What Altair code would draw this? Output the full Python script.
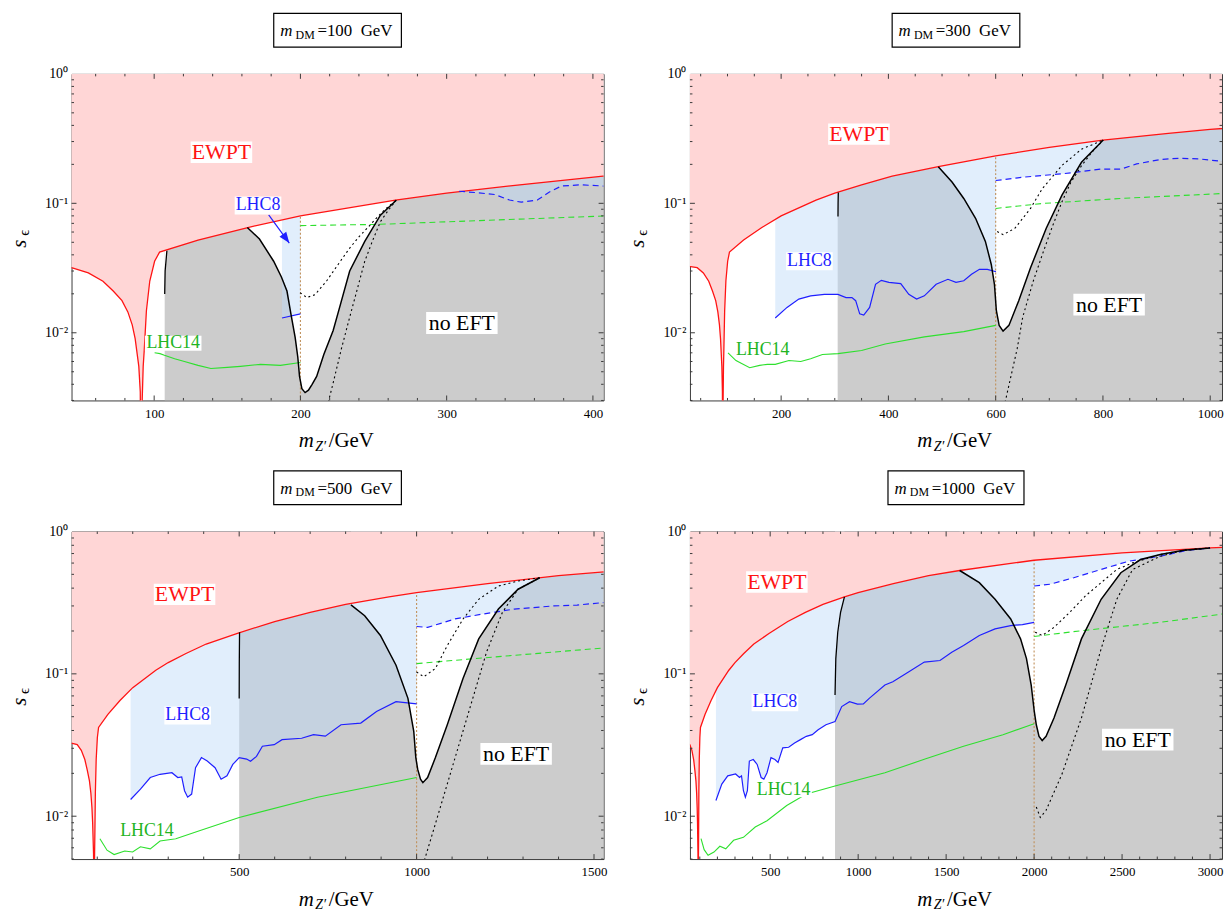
import altair as alt
import pandas as pd

FONT = "Liberation Serif"
PINK = "#ffd6d6"
GRAY = "#cccccc"
BLUEFILL = "#bcd9f8"
RED = "#ff1414"
BLUE = "#1f1fff"
GREEN = "#2ee02e"
GREEN_TXT = "#22b422"
BROWN = "#c0905a"
FRAME = "#3a3a3a"

# ---------------- EWPT bound (same in every panel) ----------------
ewpt = [(27, 0.0326), (43.5, 0.0318), (55, 0.029), (65, 0.025), (72, 0.021), (78, 0.0177),
        (82, 0.0145), (85, 0.0115), (87, 0.009), (89.5, 0.0055), (90.5, 0.0035), (91.19, 0.0004),
        (91.6, 0.0025), (92.5, 0.0055), (93.2, 0.0073), (94.7, 0.0148), (97, 0.0251), (100.3, 0.0357),
        (103.7, 0.042), (130, 0.052), (164, 0.065), (200, 0.080), (265, 0.106), (300, 0.120),
        (350, 0.139), (407, 0.162), (493, 0.192), (600, 0.233), (700, 0.270), (800, 0.308),
        (922, 0.347), (1000, 0.372), (1200, 0.430), (1400, 0.490), (1577, 0.532), (2000, 0.628),
        (2500, 0.707), (3000, 0.766), (3070, 0.774)]

# ---------------- panel 1 : m_DM = 100 GeV ----------------
p1_v = [(163.7, 0.065), (172, 0.053), (181.7, 0.0357), (187, 0.027), (190.8, 0.021), (193.5, 0.014),
        (196.4, 0.0092), (198.2, 0.0065), (199.4, 0.0046), (201, 0.0037), (203.2, 0.00345),
        (205.5, 0.0036), (208, 0.0040), (211.1, 0.0046), (216, 0.0068), (222.4, 0.0104), (227, 0.016),
        (233.7, 0.030), (244, 0.0508), (254.7, 0.081), (265.5, 0.1057)]
p1_edge = [(107.2, 0.0199), (107.5, 0.030), (108.7, 0.043)]
p1_dot_a = [(199.8, 0.0204), (204.4, 0.0187), (210, 0.0197), (217.9, 0.0251), (226, 0.034),
            (233.7, 0.0451), (240, 0.055), (246.6, 0.066), (252, 0.077), (258, 0.090), (265.5, 0.1057)]
p1_dot_b = [(219, 0.0029), (222.4, 0.0041), (228, 0.0075), (233.7, 0.0132), (239, 0.022), (244, 0.0357),
            (249.5, 0.052), (254.7, 0.0722), (260, 0.088), (265.5, 0.1057)]
p1_lhc8 = [(187.4, 0.0130), (200, 0.0140)]
p1_lhc8_dash = [(308.5, 0.124), (320, 0.121), (332.7, 0.117), (343, 0.106), (351, 0.102), (362, 0.106),
                (370, 0.122), (378.5, 0.136), (392, 0.139), (407.3, 0.136)]
p1_lhc14 = [(100.3, 0.0070), (104, 0.0069), (107, 0.0067), (114, 0.0063), (120.7, 0.0060), (130, 0.0056),
            (138.8, 0.0053), (150, 0.0054), (159, 0.0055), (172.7, 0.0057), (186.3, 0.0056), (200, 0.0059)]
p1_lhc14_dash = [(200, 0.0673), (225, 0.0680), (252, 0.0687), (300, 0.0720), (350, 0.0755), (407.3, 0.0798)]
p1_labels = {"EWPT": (146, 0.248), "LHC8": (171, 0.0962), "no EFT": (310.4, 0.0119), "LHC14": (113, 0.0083)}
p1_arrow = [(178.3, 0.0813), (192.4, 0.0493)]

# ---------------- panel 2 : m_DM = 300 GeV ----------------
p2_v = [(493, 0.192), (518.6, 0.146), (540.5, 0.109), (562.5, 0.0766), (580.8, 0.0508), (591.8, 0.0337),
        (597.7, 0.0237), (601.3, 0.0148), (606.5, 0.0114), (613.8, 0.0103), (624.7, 0.0114),
        (643, 0.0177), (665, 0.0318), (694.3, 0.0642), (723.6, 0.1155), (760, 0.2075), (800.5, 0.308)]
p2_edge = [(306, 0.079), (306.2, 0.100), (306.6, 0.121)]
p2_dot_a = [(602.8, 0.0606), (613.8, 0.0573), (635.7, 0.064), (665, 0.0913), (687, 0.130), (723.6, 0.196),
            (760, 0.262), (800.5, 0.308)]
p2_dot_b = [(617.5, 0.0029), (640, 0.0075), (650.4, 0.0132), (670, 0.025), (687, 0.0402), (705, 0.065),
            (723.6, 0.1027), (740, 0.145), (760, 0.195), (780, 0.25), (800.5, 0.308)]
p2_lhc8 = [(189, 0.0130), (211, 0.0157), (233, 0.0182), (255, 0.0193), (280.6, 0.0198), (306, 0.0198),
           (321, 0.0187), (332, 0.0187), (339, 0.0177), (346.5, 0.0140), (354, 0.0137), (365, 0.0157),
           (376, 0.0237), (386.8, 0.0254), (401, 0.0245), (423, 0.0240), (438, 0.0198), (452.6, 0.0182),
           (467, 0.0193), (489, 0.0237), (511, 0.0259), (526, 0.0245), (540.5, 0.0252), (555, 0.0283),
           (569.8, 0.0309), (584.5, 0.0309), (600.6, 0.0296)]
p2_lhc8_dash = [(600, 0.150), (650.4, 0.159), (687, 0.164), (723.6, 0.169), (760, 0.176), (797, 0.184),
                (833.5, 0.184), (862.8, 0.2015), (906.7, 0.218), (943, 0.223), (980, 0.220), (1022, 0.211)]
p2_lhc14 = [(101, 0.0070), (115.8, 0.0061), (141.4, 0.00537), (160, 0.0056), (174.4, 0.0057), (189, 0.0057),
            (214.6, 0.0061), (236.6, 0.0060), (255, 0.0063), (277, 0.0068), (306, 0.0069), (350, 0.0073),
            (394, 0.0082), (467, 0.0093), (540.5, 0.0102), (600, 0.0114)]
p2_lhc14_dash = [(600, 0.0913), (687, 0.0997), (833.5, 0.109), (1022, 0.119)]
p2_labels = {"EWPT": (345, 0.342), "LHC8": (252.7, 0.0357), "no EFT": (811.5, 0.0165), "LHC14": (165.6, 0.00733)}

# ---------------- panel 3 : m_DM = 500 GeV ----------------
p3_v = [(815, 0.305), (853.7, 0.256), (898, 0.186), (942, 0.115), (975.6, 0.0673), (992, 0.0395),
        (997.8, 0.0258), (1003, 0.0214), (1011, 0.0182), (1017.7, 0.0172), (1031, 0.0187), (1053, 0.0258),
        (1086.5, 0.0439), (1130.8, 0.0928), (1175, 0.176), (1230.6, 0.285), (1286, 0.393), (1347, 0.473)]
p3_edge = [(500, 0.067), (500.3, 0.120), (501, 0.196)]
p3_dot_a = [(1000, 0.103), (1020, 0.0953), (1053, 0.109), (1086.5, 0.158), (1131, 0.243), (1175, 0.334),
            (1230.6, 0.414), (1286, 0.449), (1347, 0.473)]
p3_dot_b = [(1022, 0.0049), (1053, 0.00885), (1108.6, 0.0258), (1164, 0.075), (1197, 0.142),
            (1241.7, 0.27), (1286, 0.393), (1347, 0.473)]
p3_lhc8 = [(194, 0.0131), (221.7, 0.0155), (249.4, 0.0187), (277, 0.0197), (310.4, 0.0202), (327, 0.0187),
           (338, 0.0189), (346, 0.0151), (354.8, 0.0136), (366, 0.0143), (377, 0.0219), (393.6, 0.0258),
           (410, 0.0244), (432, 0.0219), (449, 0.0182), (465.6, 0.0192), (482, 0.0231), (500, 0.0258),
           (521, 0.0252), (532, 0.0243), (548.8, 0.0263), (565.4, 0.0310), (598.7, 0.0318), (620.8, 0.0345),
           (676, 0.0353), (709.5, 0.0374), (742.8, 0.0365), (787, 0.0439), (842.6, 0.0451), (887, 0.0544),
           (942, 0.0638), (1000, 0.0615)]
p3_lhc8_dash = [(1000, 0.215), (1031, 0.212), (1108.6, 0.243), (1186, 0.263), (1275, 0.285), (1386, 0.300),
                (1452, 0.304), (1527, 0.317)]
p3_lhc14 = [(107.5, 0.00695), (127.5, 0.00577), (147.5, 0.00538), (177.4, 0.0057), (199.6, 0.0056),
            (221.7, 0.0061), (249.4, 0.0059), (277, 0.0067), (321.5, 0.00695), (388, 0.0079), (500, 0.0098),
            (720.6, 0.0136), (1000, 0.0187)]
p3_lhc14_dash = [(1000, 0.118), (1164, 0.128), (1527, 0.152)]
p3_labels = {"EWPT": (346, 0.362), "LHC8": (354.8, 0.051), "no EFT": (1280.5, 0.0274), "LHC14": (240, 0.0079)}

# ---------------- panel 4 : m_DM = 1000 GeV ----------------
p4_v = [(1577, 0.532), (1688.6, 0.437), (1778, 0.334), (1867, 0.243), (1923, 0.176), (1956.6, 0.128),
        (1983.5, 0.0834), (2001, 0.0544), (2012.5, 0.0439), (2028, 0.0364), (2046, 0.034), (2068, 0.0364),
        (2113, 0.0489), (2180, 0.0834), (2269, 0.176), (2381, 0.334), (2493, 0.513), (2605, 0.635),
        (2717, 0.689), (2850, 0.738), (3000, 0.766)]
p4_edge = [(868.6, 0.071), (873, 0.128), (884, 0.196), (900, 0.270), (922, 0.347)]
p4_dot_a = [(2006, 0.196), (2046, 0.186), (2113, 0.212), (2202, 0.270), (2292, 0.353), (2381, 0.437),
            (2470, 0.541), (2560, 0.602), (2717, 0.689), (2850, 0.738), (3000, 0.766)]
p4_dot_b = [(2012.5, 0.0116), (2035, 0.0098), (2068, 0.0110), (2158, 0.0197), (2269, 0.0489), (2381, 0.150),
            (2470, 0.334), (2560, 0.541), (2717, 0.670), (2850, 0.738), (3000, 0.766)]
p4_lhc8 = [(191.7, 0.0129), (225, 0.0168), (258.7, 0.0192), (303.4, 0.0198), (325.7, 0.0187), (337, 0.0192),
           (348, 0.0151), (359, 0.0136), (370.4, 0.0151), (381.6, 0.0244), (404, 0.0250), (426, 0.0231),
           (448.6, 0.0187), (464, 0.0182), (482, 0.0202), (504.5, 0.0258), (527, 0.0250), (544.7, 0.0239),
           (571.5, 0.0302), (605, 0.0305), (638.5, 0.0327), (672, 0.0345), (705.5, 0.0364), (739, 0.0374),
           (772.6, 0.0405), (817, 0.0439), (868.6, 0.0463), (906.6, 0.0589), (951, 0.0638), (996, 0.0613),
           (1029.5, 0.0614), (1063, 0.0673), (1152, 0.0834), (1197, 0.0880), (1286, 0.103), (1376, 0.121),
           (1465, 0.124), (1532, 0.142), (1599, 0.158), (1688.6, 0.186), (1778, 0.207), (1867, 0.218),
           (1934, 0.222), (2000, 0.230)]
p4_lhc8_dash = [(2000, 0.414), (2091, 0.426), (2225, 0.473), (2381, 0.541), (2537, 0.618), (2716, 0.670),
                (2873, 0.738), (3000, 0.766)]
p4_lhc14 = [(107, 0.00695), (124.7, 0.00582), (147, 0.00532), (180.5, 0.0056), (214, 0.00615), (247.5, 0.0059),
            (292, 0.00677), (348, 0.0071), (415, 0.0084), (482, 0.0093), (594, 0.0119), (705.5, 0.0143),
            (868.6, 0.0163), (1152, 0.0202), (1376, 0.0251), (1599, 0.0310), (1823, 0.0374), (2000, 0.0446)]
p4_lhc14_dash = [(2000, 0.183), (2269, 0.201), (2716, 0.230), (3068, 0.263)]
p4_labels = {"EWPT": (538, 0.4416), "LHC8": (527, 0.063), "no EFT": (2589, 0.0345), "LHC14": (576, 0.0153)}

PANELS = [
    dict(mdm="100", xdom=[43.5, 407.3], ydom=[0.003, 1], xmajor=[100, 200, 300, 400], xstep=20,
         gray_from=107.2, thr=200, v=p1_v, edge=p1_edge, dot_a=p1_dot_a, dot_b=p1_dot_b,
         lhc8=p1_lhc8, lhc8d=p1_lhc8_dash, lhc14=p1_lhc14, lhc14d=p1_lhc14_dash,
         labels=p1_labels, arrow=p1_arrow, hw=64.3, H=329),
    dict(mdm="300", xdom=[30, 1022], ydom=[0.003, 1], xmajor=[200, 400, 600, 800, 1000], xstep=50,
         gray_from=305.4, thr=600, v=p2_v, edge=p2_edge, dot_a=p2_dot_a, dot_b=p2_dot_b,
         lhc8=p2_lhc8, lhc8d=p2_lhc8_dash, lhc14=p2_lhc14, lhc14d=p2_lhc14_dash,
         labels=p2_labels, arrow=None, hw=64.3, H=329),
    dict(mdm="500", xdom=[27.5, 1527], ydom=[0.005, 1], xmajor=[500, 1000, 1500], xstep=100,
         gray_from=500, thr=1000, v=p3_v, edge=p3_edge, dot_a=p3_dot_a, dot_b=p3_dot_b,
         lhc8=p3_lhc8, lhc8d=p3_lhc8_dash, lhc14=p3_lhc14, lhc14d=p3_lhc14_dash,
         labels=p3_labels, arrow=None, hw=64.3, H=330),
    dict(mdm="1000", xdom=[44, 3068], ydom=[0.005, 1], xmajor=[500, 1000, 1500, 2000, 2500, 3000], xstep=100,
         gray_from=868.6, thr=2000, v=p4_v, edge=p4_edge, dot_a=p4_dot_a, dot_b=p4_dot_b,
         lhc8=p4_lhc8, lhc8d=p4_lhc8_dash, lhc14=p4_lhc14, lhc14d=p4_lhc14_dash,
         labels=p4_labels, arrow=None, hw=68.5, H=330),
]

LABEL_STYLE = {  # box w, box h, font size, colour
    "EWPT": (62, 21.5, 22, RED),
    "LHC8": (47, 18, 18, BLUE),
    "no EFT": (72, 22, 22, "black"),
    "LHC14": (57, 15, 18, GREEN_TXT),
}

W = 536
ONE = pd.DataFrame({"k": [0]})
YLAB = ("datum.value >= 0.5 ? '10\u2070' : (datum.value >= 0.05 ? '10\u207b\u00b9' : "
        "(datum.value >= 0.005 ? '10\u207b\u00b2' : '10\u207b\u00b3'))")


def pts_df(pts, top=None):
    d = pd.DataFrame(pts, columns=["x", "y"])
    if top is not None:
        d["top"] = top
    return d


def build(P):
    H = P["H"]
    xs = alt.Scale(domain=P["xdom"], nice=False, zero=False)
    ys = alt.Scale(type="log", domain=P["ydom"], nice=False)
    ytop = P["ydom"][1]
    xax = alt.Axis(values=P["xmajor"], title=None, grid=False, ticks=False, tickSize=0, domain=False,
                   labelFont=FONT, labelFontSize=13, labelColor="black", labelPadding=7, format="d",
                   labelFlush=False, labelOverlap=False)
    yax = alt.Axis(values=[0.01, 0.1, 1], title=None, grid=False, ticks=False, tickSize=0, domain=False,
                   labelFont=FONT, labelFontSize=14, labelColor="black", labelPadding=4,
                   labelExpr=YLAB, labelFlush=False, labelOverlap=False)

    def X(f="x"):
        return alt.X(f, type="quantitative", scale=xs, axis=xax)

    def Y(f="y"):
        return alt.Y(f, type="quantitative", scale=ys, axis=yax)

    def line(pts, color, width, dash=None):
        kw = dict(color=color, strokeWidth=width, clip=True)
        if dash:
            kw["strokeDash"] = dash
        return alt.Chart(pts_df(pts)).mark_line(**kw).encode(x=X(), y=Y())

    def area_top(pts, color, opacity=1.0):
        return alt.Chart(pts_df(pts, ytop)).mark_area(color=color, opacity=opacity, clip=True).encode(
            x=X(), y=Y(), y2=alt.Y2("top"))

    def ptext(text, x, y, size, style="normal", align="left", angle=None):
        kw = dict(text=text, font=FONT, fontSize=size, fontStyle=style, align=align,
                  baseline="alphabetic", color="black")
        if angle is not None:
            kw["angle"] = angle
        return alt.Chart(ONE).mark_text(**kw).encode(x=alt.value(x), y=alt.value(y))

    L = []
    # regions
    L.append(alt.Chart(pd.DataFrame({"x": [P["gray_from"]]})).mark_rect(color=GRAY, clip=True).encode(
        x=X(), x2=alt.value(W), y=alt.value(0), y2=alt.value(H)))
    L.append(area_top(P["v"], "white"))
    L.append(area_top(P["edge"], "white"))
    L.append(area_top(P["lhc8"], BLUEFILL, 0.45))
    L.append(area_top(P["lhc8d"], BLUEFILL, 0.45))
    L.append(alt.Chart(pd.DataFrame({"x": [P["thr"]]})).mark_rule(
        color=BROWN, strokeWidth=1.1, strokeDash=[2, 2]).encode(x=X(), y=alt.value(0), y2=alt.value(H)))
    L.append(area_top(ewpt, PINK))
    # curves
    L.append(line(ewpt, RED, 1.3))
    L.append(line(P["lhc14"], GREEN, 1.1))
    L.append(line(P["lhc14d"], GREEN, 1.1, [6, 4]))
    L.append(line(P["lhc8"], BLUE, 1.2))
    L.append(line(P["lhc8d"], BLUE, 1.2, [6, 4]))
    L.append(line(P["v"], "black", 1.5))
    L.append(line(P["edge"], "black", 1.3))
    L.append(line(P["dot_a"], "black", 1.1, [2, 3]))
    L.append(line(P["dot_b"], "black", 1.1, [2, 3]))
    # arrow
    if P["arrow"]:
        (ax0, ay0), (ax1, ay1) = P["arrow"]
        adf = pd.DataFrame({"x": [ax0], "y": [ay0], "x2": [ax1], "y2": [ay1]})
        L.append(alt.Chart(adf).mark_rule(color=BLUE, strokeWidth=1.2).encode(
            x=X(), y=Y(), x2="x2:Q", y2="y2:Q"))
        L.append(alt.Chart(pts_df([(ax1, ay1)])).mark_point(
            shape="M0,0L-0.38,-1L0.38,-1Z", size=484, angle=324, filled=True, color=BLUE,
            opacity=1, strokeWidth=0).encode(x=X(), y=Y()))
    # labels with white boxes
    for name, (lx, ly) in P["labels"].items():
        bw, bh, fs, col = LABEL_STYLE[name]
        d = pts_df([(lx, ly)])
        L.append(alt.Chart(d).mark_point(
            shape=f"M{-bw/2},{-bh/2}H{bw/2}V{bh/2}H{-bw/2}Z", size=4, filled=True, color="white",
            opacity=1, strokeWidth=0).encode(x=X(), y=Y()))
        L.append(alt.Chart(d).mark_text(text=name, font=FONT, fontSize=fs, color=col, align="center",
                                         baseline="middle").encode(x=X(), y=Y()))
    # frame ticks (inward)
    x0, x1 = P["xdom"]
    xminor = [v for v in range(P["xstep"], int(x1) + 1, P["xstep"]) if v not in P["xmajor"] and v > x0]
    y0 = P["ydom"][0]
    ymajor = [0.01, 0.1]
    yminor = [m * 10.0 ** e for e in (-3, -2, -1) for m in range(2, 10) if m * 10.0 ** e >= y0 * 0.999]
    for vals, ln in ((P["xmajor"], 5), (xminor, 2.5)):
        d = pd.DataFrame({"x": vals})
        L.append(alt.Chart(d).mark_rule(color=FRAME, strokeWidth=1).encode(
            x=X(), y=alt.value(H), y2=alt.value(H - ln)))
        L.append(alt.Chart(d).mark_rule(color=FRAME, strokeWidth=1).encode(
            x=X(), y=alt.value(0), y2=alt.value(ln)))
    for vals, ln in ((ymajor, 5), (yminor, 2.5)):
        d = pd.DataFrame({"y": vals})
        L.append(alt.Chart(d).mark_rule(color=FRAME, strokeWidth=1).encode(
            y=Y(), x=alt.value(0), x2=alt.value(ln)))
        L.append(alt.Chart(d).mark_rule(color=FRAME, strokeWidth=1).encode(
            y=Y(), x=alt.value(W), x2=alt.value(W - ln)))
    # boxed panel title  m_DM = ... GeV
    c = W / 2
    hw = P["hw"]
    L.append(alt.Chart(ONE).mark_rect(fill="white", stroke="black", strokeWidth=1.2).encode(
        x=alt.value(c - hw), x2=alt.value(c + hw), y=alt.value(-61), y2=alt.value(-27)))
    L.append(ptext("m", c - hw + 6.5, -37.7, 17, "italic"))
    L.append(ptext("DM", c - hw + 22, -35.3, 12))
    L.append(ptext("=" + P["mdm"] + "\u00a0 GeV", c - hw + 44, -37.7, 17))
    # x-axis title  m_Z'/GeV
    L.append(ptext("m", c - 39, H + 47, 21, "italic"))
    L.append(ptext("Z\u2032", c - 22.5, H + 50.5, 14, "italic"))
    L.append(ptext("/GeV", c - 9, H + 47, 21))
    # y-axis title  s_eps
    L.append(ptext("s", -46, 0.52 * H, 21, "italic", align="center", angle=270))
    L.append(ptext("\u03f5", -43, 0.52 * H - 11, 15, "normal", align="center", angle=270))
    return alt.layer(*L).properties(width=W, height=H)


chart = alt.concat(
    *[build(P) for P in PANELS], columns=2, spacing={"row": 132, "column": 87}, bounds="flush"
).properties(
    padding={"left": 0, "top": 0, "right": 0, "bottom": 0}
).configure_view(stroke=FRAME, strokeWidth=1)

chart.save("out.html", embed_options={"renderer": "svg", "actions": False})
